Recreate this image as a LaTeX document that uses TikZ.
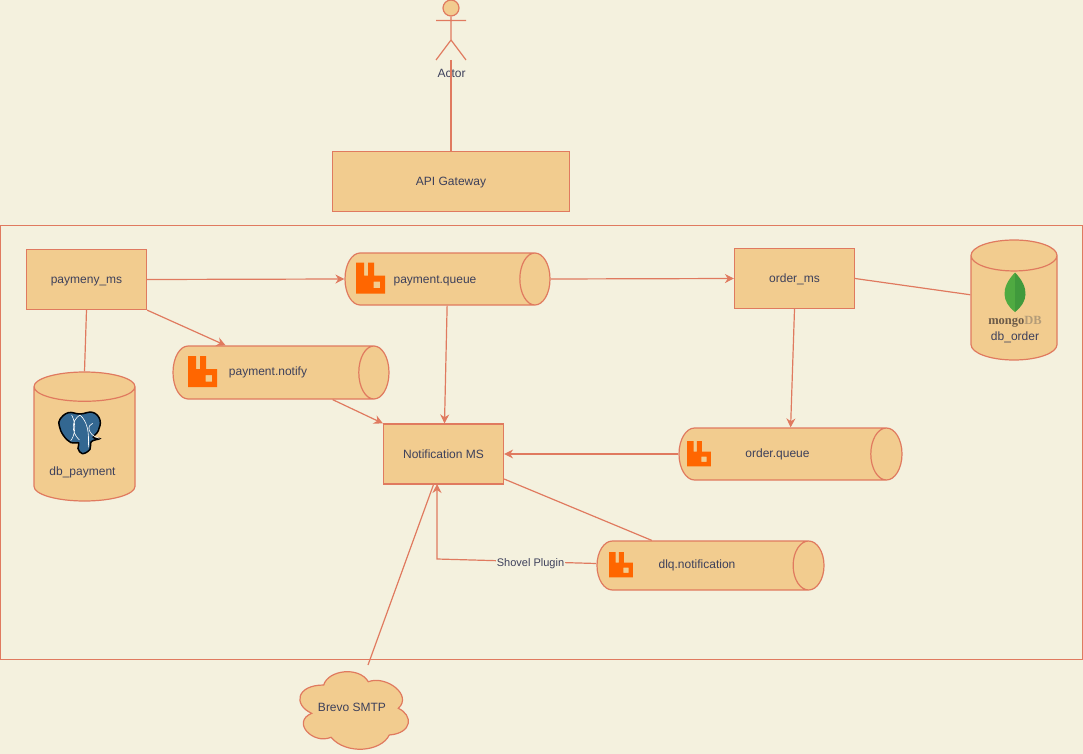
\documentclass[tikz,border=0pt]{standalone}
\usepackage{fontspec}
\setmainfont{Liberation Sans}
\newfontfamily\mongofont{Liberation Serif}
\usetikzlibrary{positioning,calc,arrows.meta,shapes.geometric}
\definecolor{bgc}{HTML}{F4F1DE}
\definecolor{boxc}{HTML}{F2CC8F}
\definecolor{linec}{HTML}{E07A5F}
\definecolor{textc}{HTML}{3D405B}
\definecolor{rabbitc}{HTML}{FF6600}
\definecolor{pgblue}{HTML}{336791}
\definecolor{leafa}{HTML}{4FAA41}
\definecolor{leafb}{HTML}{409A3C}
\definecolor{mongoa}{HTML}{6B5A48}
\definecolor{mongob}{HTML}{B39C78}

\begin{document}
\begin{tikzpicture}[x=1pt,y=-1pt,line width=1.2pt,>={Stealth[length=9pt,width=9pt]},
    rabbit/.pic={
        \fill[rabbitc,even odd rule] (0,0) -- (8,0) -- (8,13) -- (12,13) -- (12,0) -- (18,0) -- (18,13)
            -- (29,13) -- (29,31) -- (0,31) -- cycle
            (17.5,19) rectangle (24,25.5);
    }]
    \tikzstyle{every node}=[inner sep=0,text=textc,font=\fontsize{12}{14}\selectfont,text height=8.5,text depth=0]
    \tikzstyle{box}=[draw=linec,fill=boxc,rectangle,minimum width=120,minimum height=60]
    \tikzstyle{queue}=[draw=linec,shape=cylinder,anchor=shape center,text height=0,cylinder uses custom fill,cylinder body fill=boxc,cylinder end fill=boxc,shape border rotate=0]
    \tikzstyle{dbase}=[draw=linec,shape=cylinder,anchor=shape center,text height=0,cylinder uses custom fill,cylinder body fill=boxc,cylinder end fill=boxc,shape border rotate=90]
    \tikzstyle{wire}=[every edge/.style={draw=linec}]
    \tikzstyle{flow}=[every edge/.style={draw=linec,->}]
    \useasboundingbox (0,0) rectangle (1083,754);
    \fill[bgc] (0,0) rectangle (1083,754);
    \draw[linec] (0.5,225.5) rectangle (1082.5,659.5);

    % actor
    \node[draw=linec,fill=boxc,circle,minimum size=16,text height=0] (head) at (451,8) {};
    \coordinate (feet) at (451,60);
    \draw[linec] (head.south) -- (451,40) (436,20.5) -- (466,20.5) (436,60) -- (451,40) -- (466,60);
    \node (actor) at (451.5,73.5) {Actor};

    % services
    \node[box,minimum width=237] (gw) at (451,181.5) {API Gateway};
    \node[box] (pms) at (86.5,279.5) {paymeny\_ms};
    \node[box] (oms) at (794.5,278.5) {order\_ms};
    \node[box] (nms) at (443.5,454) {Notification MS};

    % queues
    \node[queue,inner ysep=26,shape aspect=0.58,minimum width=52,minimum height=205] (pq) at (447.5,279) {};
    \node[queue,inner ysep=26.5,shape aspect=0.57,minimum width=53,minimum height=216] (pn) at (281,372.5) {};
    \node[queue,inner ysep=26,shape aspect=0.6,minimum width=52,minimum height=223] (oq) at (790.5,454) {};
    \node[queue,inner ysep=24.5,shape aspect=0.63,minimum width=49,minimum height=227] (dq) at (710.5,565.5) {};
    \node (pqt) at (435,279) {payment.queue};
    \node (pnt) at (268,371.5) {payment.notify};
    \node (oqt) at (777.5,453.5) {order.queue};
    \node (dqt) at (697,564.5) {dlq.notification};
    \pic at (356,262.5) {rabbit};
    \pic at (188,356) {rabbit};
    \pic[scale=0.82] at (687,441) {rabbit};
    \pic[scale=0.82] at (609,552) {rabbit};

    % databases
    \node[dbase,inner xsep=50.5,minimum width=101,minimum height=129,shape aspect=0.29] (dbp) at (84.5,436.5) {};
    \node[dbase,inner xsep=43,minimum width=86,minimum height=120,shape aspect=0.36] (dbo) at (1014,300) {};
    \node (dbpt) at (82.5,471) {db\_payment};
    \node (dbot) at (1015,336) {db\_order};
    \node (mongo) at (1015,320) {\mongofont\bfseries\fontsize{12.5}{14}\selectfont\textcolor{mongoa}{mongo}\textcolor{mongob}{DB}};

    % elephant
    \begin{scope}[shift={(0,360)},x=0.3333pt,y=-0.3333pt]
        \draw[black,line width=1.5pt,fill=pgblue] plot[smooth cycle,tension=0.7] coordinates {(180,178) (205,158) (240,162) (278,157) (300,180) (295,212) (280,232) (299,236) (274,245) (270,268) (247,281) (234,265) (236,249) (213,248) (190,226) (178,198)};
        \draw[white,line width=0.6pt] (240,165) .. controls (215,180) and (212,215) .. (238,240) (215,165) .. controls (232,195) and (222,232) .. (212,242) (240,165) .. controls (262,185) and (268,215) .. (265,262) (278,190) .. controls (260,195) and (262,225) .. (298,235);
    \end{scope}

    % leaf
    \fill[leafa] (1015,272.5) .. controls (1000,288) and (1002,302) .. (1015,312) -- cycle;
    \fill[leafb] (1015,272.5) .. controls (1030,288) and (1028,302) .. (1015,312) -- cycle;

    % cloud
    \draw[linec,fill=boxc,xshift=1] (322.7,685) .. controls (327,670) and (358,666) .. (367.3,681.7)
        .. controls (385,675) and (412,695) .. (397.3,708.3)
        .. controls (412,715) and (412,733) .. (388.3,735)
        .. controls (380,752) and (345,755) .. (330,737.3)
        .. controls (312,745) and (290,722) .. (310.7,713.3)
        .. controls (292,705) and (295,685) .. (322.7,685) -- cycle;
    \node (smtp) at (352,707.5) {Brevo SMTP};
    \coordinate (smtptop) at (368,665);

    % connectors
    \path[wire]
        (feet) edge (gw.north)
        (pms.south) edge (dbp.north)
        (oms.east) edge ([yshift=21]dbo.west)
        ([xshift=-10]nms.south) edge (smtptop)
        (nms.south east |- 0,479) edge ([xshift=-43]dq.north);
    \path[flow]
        (pms.east) edge (pq.west)
        (pq.east) edge (oms.west)
        (pms.south east) edge ([xshift=-40]pn.north)
        ([xshift=67]pn.south) edge (nms.north west)
        ([xshift=15]pq.south) edge ([xshift=1]nms.north)
        (oms.south) edge ([xshift=16]oq.north)
        (oq.west) edge (nms.east);
    \coordinate (bend) at (437,559);
    \draw[draw=linec,->] ([yshift=2]dq.west) -- (bend) -- (437,484);
    \node[fill=bgc,inner sep=1] (shovel) at (530.5,562) {\fontsize{11}{13}\selectfont Shovel Plugin};
\end{tikzpicture}
\end{document}
